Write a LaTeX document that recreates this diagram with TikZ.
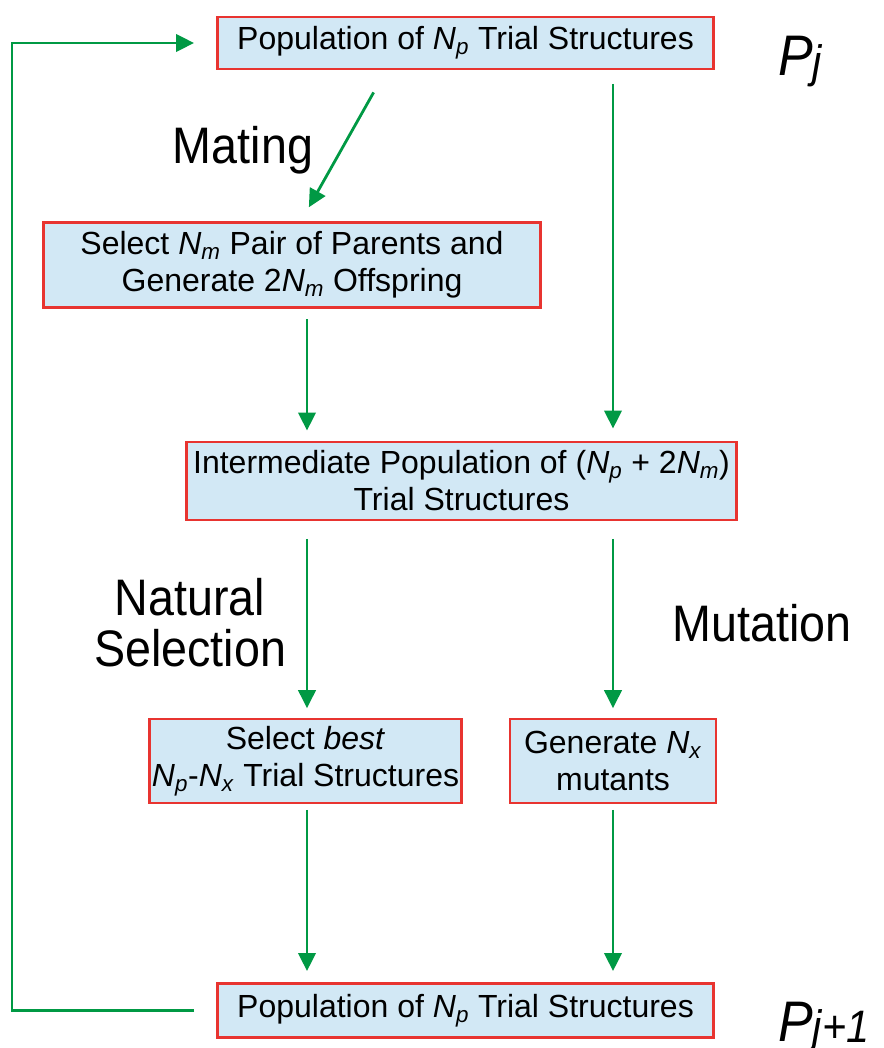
\documentclass[tikz,border=0pt]{standalone}
\usepackage{fontspec}
\setmainfont{Liberation Sans}
\usepackage{graphicx}
\usetikzlibrary{arrows.meta,calc}

\definecolor{boxfill}{RGB}{210,232,245}
\definecolor{boxline}{RGB}{232,52,48}
\definecolor{flowgreen}{RGB}{0,153,68}

\newcommand{\itsub}[2]{\textit{#1}\textsubscript{\textit{#2}}}
\newcommand{\tall}[1]{\scalebox{1}[1.1]{#1}}
\newcommand{\gen}[1]{\textit{P}\raisebox{-1pt}{\fontsize{31}{31}\selectfont\textit{#1}}}

\begin{document}
\begin{tikzpicture}[x=0.75pt,y=-0.75pt]
  \tikzset{stage/.style = {draw=boxline, fill=boxfill, line width=2.2pt, inner sep=2pt,
      align=center, font=\fontsize{24}{27.75}\selectfont}}
  \tikzset{flow/.style = {draw=flowgreen, line width=2.1pt, -{Triangle[length=13.5pt,width=13pt]}}}
  \tikzset{phase/.style = {inner sep=0pt, align=center, font=\fontsize{35}{37}\selectfont}}

  \useasboundingbox (0,0) rectangle (883,1048);

\node[stage, minimum width=372pt, minimum height=39pt] (top)  at (465.5,43) {Population of \itsub{N}{p} Trial Structures};
\node[stage, minimum width=373pt, minimum height=63.5pt] (sel)  at (292,265) {Select \itsub{N}{m} Pair of Parents and\\Generate 2\itsub{N}{m} Offspring};
\node[stage, minimum width=413pt, minimum height=58.5pt] (inter)  at (461.5,481) {Intermediate Population of (\itsub{N}{p} + 2\itsub{N}{m})\\Trial Structures};
\node[stage, minimum width=234.5pt, minimum height=63pt] (best)  at (305.5,761) {Select \textit{best}\\\itsub{N}{p}-\itsub{N}{x} Trial Structures};
\node[stage, minimum width=154.5pt, minimum height=63pt] (gen)  at (613,761) {Generate \itsub{N}{x}\\mutants};
\node[stage, minimum width=372pt, minimum height=40pt] (bot)  at (465.5,1010.5) {Population of \itsub{N}{p} Trial Structures};

\coordinate (lc) at (307,0);
\coordinate (rc) at (613,0);
\coordinate (loop) at (12,500);

\node[phase, anchor=base] (mating) at (243,164) {\tall{Mating}};
\node[phase, anchor=base] (natural) at (190,615) {\tall{Natural}};
\node[phase, anchor=base] (selection) at (190,666) {\tall{Selection}};
\node[phase, anchor=base] (mutation) at (762,641) {\tall{Mutation}};
\node[phase, anchor=base west, font=\fontsize{39}{40}\selectfont] (pj) at (778,76) {\tall{\gen{j}}};
\node[phase, anchor=base west, font=\fontsize{39}{40}\selectfont] (pjj) at (778,1041) {\tall{\gen{j+1}}};

    \draw[flow, shorten <=18.9pt, shorten >=12pt] (top.south -| 386,0) -- (sel.north -| 301,0);
    \draw[flow, shorten <=10pt, shorten >=9pt] (top.south -| rc) -- (inter.north -| rc);
    \draw[flow, shorten <=8pt, shorten >=7.5pt] (sel.south -| lc) -- (inter.north -| lc);

      \draw[flow, shorten <=13pt, shorten >=7pt] (inter.south -| lc) -- (best.north -| lc);
      \draw[flow, shorten <=13pt, shorten >=7pt] (inter.south -| rc) -- (gen.north -| rc);

        \draw[flow, shorten <=4pt, shorten >=8.5pt] (best.south -| lc) -- (bot.north -| lc);
        \draw[flow, shorten <=4pt, shorten >=8.5pt] (gen.south -| rc) -- (bot.north -| rc);

    \draw[flow] ([xshift=-16.5pt]bot.west) -| (loop) |- ([xshift=-16.5pt]top.west);

\end{tikzpicture}
\end{document}
